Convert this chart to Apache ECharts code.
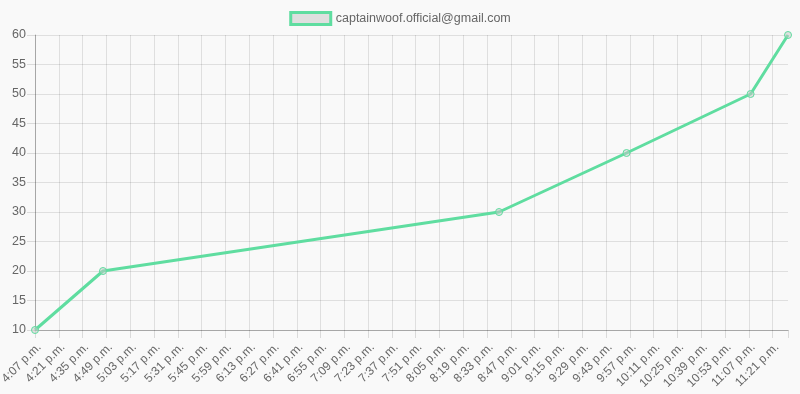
<!DOCTYPE html>
<html><head><meta charset="utf-8">
<script src="https://cdn.jsdelivr.net/npm/echarts@6/dist/echarts.min.js"></script>
<style>html,body{margin:0;padding:0;background:#f9f9f9}#c{width:800px;height:394px}</style>
</head><body><div id="c"></div>
<script>
// data
const pointTimes = ['4:07 p.m.', '4:47 p.m.', '8:40 p.m.', '9:55 p.m.', '11:08 p.m.', '11:30 p.m.'];
const pointValues = [10, 20, 30, 40, 50, 60];
const tickLabels = ['4:07 p.m.','4:21 p.m.','4:35 p.m.','4:49 p.m.','5:03 p.m.','5:17 p.m.','5:31 p.m.','5:45 p.m.','5:59 p.m.','6:13 p.m.','6:27 p.m.','6:41 p.m.','6:55 p.m.','7:09 p.m.','7:23 p.m.','7:37 p.m.','7:51 p.m.','8:05 p.m.','8:19 p.m.','8:33 p.m.','8:47 p.m.','9:01 p.m.','9:15 p.m.','9:29 p.m.','9:43 p.m.','9:57 p.m.','10:11 p.m.','10:25 p.m.','10:39 p.m.','10:53 p.m.','11:07 p.m.','11:21 p.m.'];
const seriesName = 'captainwoof.official@gmail.com';

function toMin(s){ const [hm] = s.split(' '); const [h,m] = hm.split(':').map(Number); return (h%12)*60 + m + 12*60; }
const start = toMin(tickLabels[0]);
const endMin = toMin(pointTimes[pointTimes.length-1]) - start;
const data = pointTimes.map((t,i)=>[toMin(t)-start, pointValues[i]]);

const green = '#5fdda0';
const font = 'Arial, "Liberation Sans", sans-serif';
const chart = echarts.init(document.getElementById('c'));
chart.setOption({
  backgroundColor: '#f9f9f9',
  animation: false,
  textStyle: {fontFamily: font},
  legend: {
    top: 11, left: 'center', icon: 'rect', itemWidth: 40, itemHeight: 12, itemGap: 6,
    padding: 0,
    textStyle: {fontFamily: font, fontSize: 12.5, color: '#666'},
    data: [{name: seriesName, itemStyle: {color: 'rgba(0,0,0,0.1)', borderColor: green, borderWidth: 3}}]
  },
  grid: {left: 35, right: 12, top: 35, bottom: 64, outerBoundsMode: 'none', containLabel: false},
  xAxis: {
    type: 'value', min: 0, max: endMin, interval: 14,
    axisLine: {show: true, lineStyle: {color: 'rgba(0,0,0,0.25)'}},
    axisTick: {show: true, length: 8, lineStyle: {color: 'rgba(0,0,0,0.12)'}},
    splitLine: {show: true, showMaxLine: false, lineStyle: {color: 'rgba(0,0,0,0.1)'}},
    axisLabel: {
      rotate: 45, fontSize: 12, color: '#666', fontFamily: font, margin: 11,
      verticalAlign: 'top',
      showMaxLabel: true,
      formatter: v => (v % 14 === 0 && tickLabels[v/14]) ? tickLabels[v/14] : ''
    }
  },
  yAxis: {
    type: 'value', min: 10, max: 60, interval: 5,
    axisLine: {show: true, lineStyle: {color: 'rgba(0,0,0,0.25)'}},
    axisTick: {show: true, length: 8, lineStyle: {color: 'rgba(0,0,0,0.12)'}},
    splitLine: {show: true, lineStyle: {color: 'rgba(0,0,0,0.1)'}},
    axisLabel: {fontSize: 12.5, color: '#666', fontFamily: font, margin: 9}
  },
  series: [{
    name: seriesName, type: 'line', data: data,
    lineStyle: {color: green, width: 3},
    symbol: 'circle', symbolSize: 7,
    itemStyle: {color: 'rgba(200,200,200,0.5)', borderColor: green, borderWidth: 1},
    color: green
  }]
});
</script></body></html>
